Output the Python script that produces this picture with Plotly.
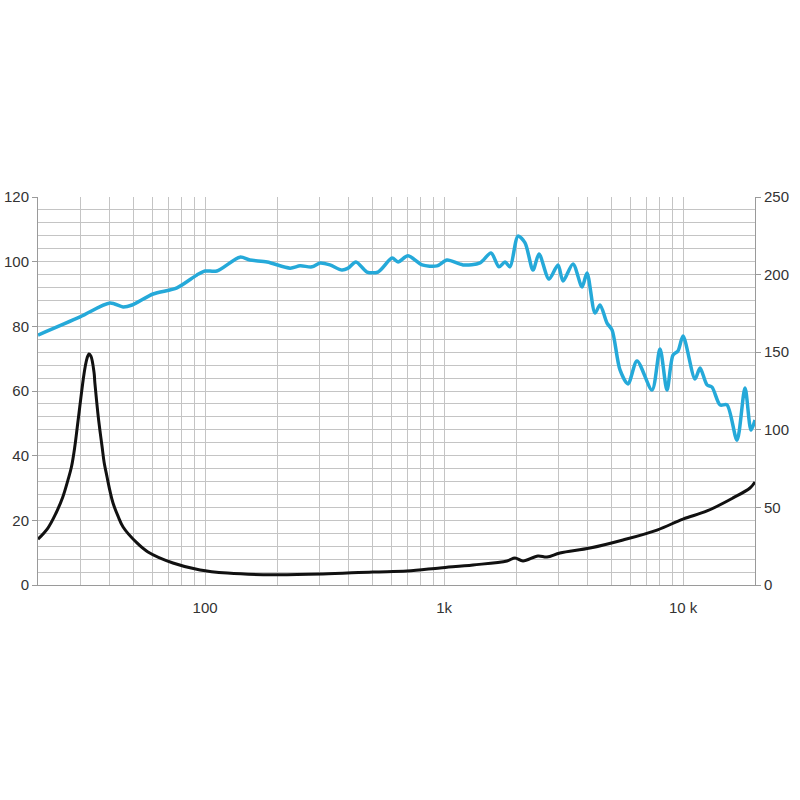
import plotly.graph_objs as go

# SPL response (left axis, dB)
spl_freq = [20, 30.0, 40.0, 45.4, 49.5, 60.6, 76.3, 92.5, 100, 112, 140, 154, 182, 227,
            250, 280, 303, 333, 374, 397, 428, 476, 529, 606, 642, 706, 809, 934, 1029,
            1200, 1414, 1572, 1698, 1799, 1888, 2039, 2182, 2356, 2496, 2748, 2998, 3146,
            3464, 3778, 3964, 4282, 4493, 4807, 5044, 5447, 5885, 6417, 7414, 8008, 8566,
            9077, 9524, 10000, 11220, 11776, 12596, 13218, 14280, 15270, 16814, 18164,
            19246, 20000]
spl_db = [77.3, 82.9, 87.2, 86.0, 86.6, 90.0, 91.9, 95.9, 97.1, 97.1, 101.4, 100.5, 99.9,
          98.0, 98.7, 98.4, 99.6, 99.0, 97.4, 98.0, 99.9, 96.8, 96.8, 101.1, 99.9, 101.8,
          99.0, 98.7, 100.5, 99.0, 99.6, 102.7, 98.4, 99.9, 98.4, 107.9, 105.8, 97.4,
          102.4, 94.6, 99.0, 94.0, 99.3, 92.2, 96.5, 84.1, 86.6, 81.0, 78.9, 66.5, 62.2,
          69.3, 60.3, 73.0, 60.3, 71.1, 72.4, 77.0, 63.7, 67.1, 61.9, 61.2, 55.7, 55.7,
          44.8, 60.9, 47.9, 51.0]

# Impedance (right axis, ohm)
imp_freq = [20, 22.0, 23.8, 25.4, 26.7, 27.6, 28.5, 29.2, 29.9, 30.9, 31.5, 32.1, 32.7,
            33.3, 34.3, 34.6, 35.6, 36.3, 37.1, 37.8, 38.9, 40.0, 41.2, 43.2, 45.4, 51.9,
            57.7, 73.4, 95.3, 124, 192, 311, 504, 700, 962, 1322, 1834, 1981, 2139, 2472,
            2696, 3056, 4080, 5607, 7780, 10000, 12596, 16180, 19060, 20000]
imp_ohm = [29.5, 36.7, 46.4, 56.7, 67.7, 76.0, 88.9, 101.8, 114.7, 132.1, 140.5, 146.3,
           148.8, 147.5, 137.2, 130.1, 110.8, 99.9, 88.9, 79.3, 69.6, 60.6, 52.8, 44.5,
           37.4, 27.1, 21.3, 14.2, 9.7, 7.7, 6.6, 7.1, 8.4, 9.0, 11.0, 12.9, 15.5, 17.4,
           15.5, 18.7, 18.0, 20.6, 23.8, 29.0, 35.4, 42.5, 47.7, 56.1, 62.5, 66.4]

grid_freqs = [20, 30, 40, 50, 60, 70, 80, 90, 100, 200, 300, 400, 500, 600, 700, 800, 900,
              1000, 2000, 3000, 4000, 5000, 6000, 7000, 8000, 9000, 10000, 20000]
x_tickvals = [100, 1000, 10000]
x_ticktext = ["100", "1k", "10 k"]

grid_color = "#c4c4c4"
axis_color = "#9a9a9a"
font = dict(family="Liberation Sans, Arial, sans-serif", size=15, color="#333333")

fig = go.Figure()

fig.add_trace(go.Scatter(
    x=spl_freq, y=spl_db, mode="lines",
    line=dict(color="#25a9d9", width=3.5, shape="spline", smoothing=0.8),
    showlegend=False
))

fig.add_trace(go.Scatter(
    x=imp_freq, y=imp_ohm, mode="lines", yaxis="y2",
    line=dict(color="#111111", width=3, shape="spline", smoothing=1.0),
    showlegend=False
))

fig.update_layout(
    width=800, height=800,
    margin=dict(l=38, r=45, t=197, b=215),
    paper_bgcolor="white",
    plot_bgcolor="white",
    font=font,
    xaxis=dict(
        type="log", range=[1.30103, 4.30103], automargin=False,
        tickvals=x_tickvals, ticktext=x_ticktext,
        showgrid=True, gridcolor=grid_color, gridwidth=1,
        minor=dict(tickvals=grid_freqs, showgrid=True, gridcolor=grid_color, gridwidth=1),
        ticks="outside", ticklen=9, tickcolor="rgba(0,0,0,0)",
        showline=True, linecolor=axis_color, linewidth=1,
        zeroline=False
    ),
    yaxis=dict(
        range=[0, 120], dtick=20, automargin=False,
        showgrid=True, gridcolor=grid_color, gridwidth=1,
        minor=dict(dtick=4, showgrid=True, gridcolor=grid_color, gridwidth=1),
        ticks="outside", ticklen=5, tickcolor=axis_color,
        showline=True, linecolor=axis_color, linewidth=1,
        zeroline=False
    ),
    yaxis2=dict(
        range=[0, 250], dtick=50, overlaying="y", side="right", automargin=False,
        showgrid=False,
        ticks="outside", ticklen=5, tickcolor=axis_color,
        showline=True, linecolor=axis_color, linewidth=1,
        zeroline=False
    )
)

# drop the default 8px page margin so the chart sits at the window corner
fig.write_html("out.html", config={"displayModeBar": False},
               post_script="document.body.style.margin = '0';")
